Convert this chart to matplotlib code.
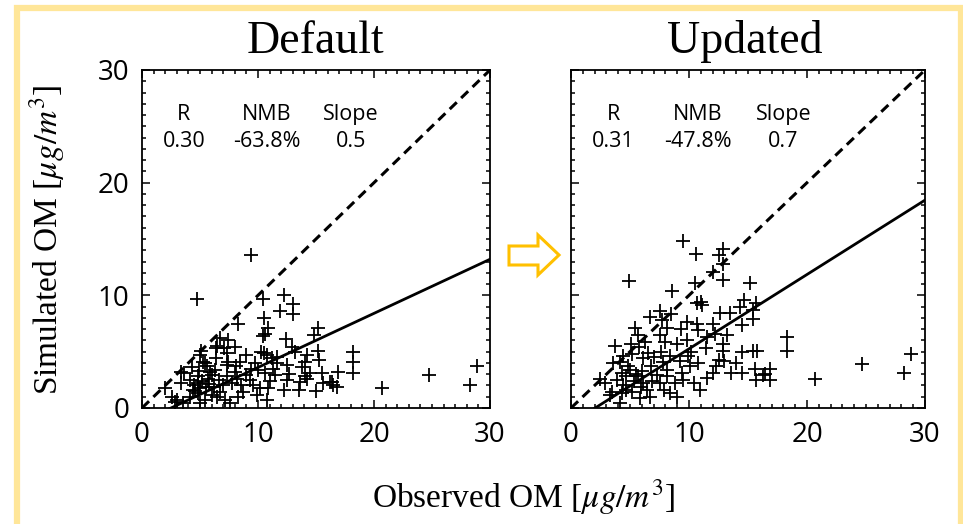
import matplotlib
matplotlib.use("Agg")
import matplotlib.pyplot as plt
import numpy as np
from matplotlib.patches import Rectangle, Polygon
from matplotlib.ticker import MultipleLocator

plt.rcParams['mathtext.fontset'] = 'stix'

# observed vs simulated OM (ug/m3)
default_obs = [9.4, 4.7, 10.4, 12.2, 13.0, 11.9, 13.0, 10.5, 8.3, 10.9, 10.6, 10.4, 15.2, 14.8,
               12.4, 6.7, 7.4, 6.5, 7.1, 8.0, 7.3, 6.4, 5.1, 5.0, 9.0, 8.45, 7.4, 6.4, 5.3, 10.3,
               10.75, 11.2, 11.6, 10.5, 13.2, 12.9, 14.2, 14.05, 15.2, 15.3, 18.2, 18.2, 18.2,
               9.7, 10.0, 11.3, 11.6, 12.5, 10.6, 5.4, 5.6, 7.3, 8.1, 3.4, 4.1, 4.85, 5.7, 6.6,
               7.3, 8.2, 9.0, 9.3, 3.6, 3.4, 2.0, 2.56, 3.0, 3.56, 4.1, 4.4, 4.85, 5.4, 6.0, 6.7,
               7.15, 7.6, 8.3, 8.7, 9.9, 10.75, 10.2, 10.9, 12.2, 13.5, 12.5, 14.2, 15.5, 16.35,
               16.8, 15.6, 16.2, 16.9, 16.5, 13.6, 14.05, 14.5, 20.7, 24.7, 28.9, 28.3, 2.85,
               4.5, 4.8, 5.0, 5.2, 4.6, 5.5, 5.8, 6.2, 6.0, 4.3, 5.9, 6.3, 7.8, 8.5, 7.0, 6.5,
               5.0, 4.9, 9.6, 11.0, 11.5, 12.7, 13.8, 8.0, 9.4, 15.0]
default_sim = [13.6, 9.7, 9.7, 10.0, 9.2, 8.6, 8.3, 8.0, 7.5, 7.1, 6.6, 6.4, 7.1, 6.5,
               6.1, 6.2, 6.0, 5.5, 5.3, 5.4, 4.85, 5.3, 5.1, 4.7, 4.7, 4.1, 4.1, 4.4, 4.1, 5.0,
               4.7, 4.4, 4.55, 4.9, 5.0, 5.4, 4.7, 4.1, 5.1, 4.3, 5.0, 4.1, 3.1,
               4.0, 3.4, 3.5, 4.0, 3.8, 3.1, 4.0, 3.7, 3.8, 3.7, 3.2, 2.5, 2.8, 2.6, 2.5,
               2.8, 2.6, 2.9, 2.5, 3.1, 2.2, 1.75, 1.0, 0.7, 0.4, 1.0, 1.6, 1.3, 0.7, 1.15, 1.45,
               0.7, 0.4, 1.0, 1.45, 1.15, 0.7, 1.75, 1.75, 1.6, 1.6, 2.5, 2.6, 3.1, 2.3,
               1.9, 2.2, 2.3, 3.2, 2.0, 2.3, 2.8, 3.1, 1.75, 2.9, 3.7, 2.0, 0.56,
               2.0, 2.2, 1.8, 2.4, 1.5, 1.9, 2.1, 1.9, 2.9, 3.6, 3.2, 3.4, 2.2, 2.0, 2.0, 1.0,
               0.4, 3.3, 2.0, 2.4, 2.9, 3.0, 3.6, 3.2, 3.5, 1.5]

updated_obs = [9.5, 10.6, 12.9, 12.5, 12.9, 12.06, 12.9, 4.9, 10.5, 15.2, 8.6, 10.7, 11.1, 11.0,
               14.7, 14.3, 15.7, 7.5, 6.7, 7.7, 8.5, 8.1, 5.4, 5.7, 7.5, 10.65, 10.8, 12.06,
               12.6, 13.5, 14.5, 3.7, 5.1, 5.8, 8.96, 9.8, 10.2, 11.4, 12.9, 12.9, 14.5, 15.4,
               3.6, 4.15, 4.86, 6.1, 7.0, 6.8, 7.8, 8.1, 4.3, 4.7, 5.0, 4.4, 4.7, 4.3, 2.46,
               2.9, 3.45, 3.3, 4.15, 5.7, 6.1, 6.4, 6.7, 5.85, 7.26, 7.5, 8.1, 8.8, 8.4, 9.5,
               9.4, 10.1, 10.4, 10.9, 12.06, 12.3, 12.5, 13.6, 14.0, 14.5, 15.6, 15.7, 15.45,
               15.4, 18.3, 18.3, 15.8, 16.4, 16.9, 16.9, 16.3, 20.7, 24.7, 28.2, 28.8,
               5.2, 5.5, 6.0, 6.5, 5.3, 6.9, 7.6, 8.4, 9.2, 9.9, 10.8, 11.5, 12.2, 13.2, 9.3,
               9.8, 8.0, 6.3, 4.4, 5.9, 7.9, 9.0, 3.9, 5.2, 11.5, 13.0]
updated_sim = [14.85, 13.7, 14.1, 13.6, 12.8, 12.1, 11.36, 11.3, 11.1, 11.1, 10.4, 9.3, 9.1, 9.4,
               9.6, 9.0, 9.3, 8.6, 8.1, 7.8, 8.3, 7.1, 7.07, 6.5, 6.5, 7.5, 6.9, 7.5,
               8.4, 8.4, 7.4, 5.5, 5.7, 5.4, 5.7, 6.0, 5.0, 5.3, 5.7, 5.1, 5.0, 5.1,
               4.0, 4.1, 3.7, 4.4, 4.55, 3.7, 4.1, 3.4, 3.1, 2.8, 3.4, 2.0, 1.6, 1.3, 2.6,
               2.2, 1.45, 1.15, 0.47, 2.8, 2.2, 1.6, 1.0, 0.86, 2.9, 2.2, 2.8, 2.2, 1.3, 2.5,
               3.1, 3.7, 2.2, 1.6, 3.1, 3.7, 4.3, 3.1, 4.0, 3.1, 3.5, 2.5, 8.7,
               7.9, 6.3, 5.1, 5.1, 3.0, 3.5, 2.5, 2.9, 2.6, 3.9, 3.1, 4.75,
               4.8, 3.0, 3.3, 4.9, 2.4, 2.4, 5.0, 4.6, 4.2, 4.6, 4.0, 6.3, 6.6, 6.5, 7.0,
               7.6, 5.9, 5.9, 4.6, 1.9, 1.6, 1.0, 2.5, 1.4, 2.7, 4.2]

# regression lines (slope, intercept)
default_fit = (0.48, -1.2)
updated_fit = (0.66, -1.35)

stat_names = ["R", "NMB", "Slope"]
default_stats = ["0.30", "-63.8%", "0.5"]
updated_stats = ["0.31", "-47.8%", "0.7"]

W, H = 963, 524
fig = plt.figure(figsize=(W / 100, H / 100), dpi=100)


def px(x, y):
    # pixel coords (from top-left) -> figure fraction
    return x / W, 1 - y / H


# yellow frame
fig.patches.append(Rectangle(px(16.5, 560), (961 - 16.5) / W, (560 - 7.5) / H,
                             transform=fig.transFigure, fill=False,
                             edgecolor='#FFE699', lw=4.5, zorder=0))

ax1 = fig.add_axes([142 / W, 1 - 408 / H, 348 / W, 338 / H])
ax2 = fig.add_axes([571 / W, 1 - 408 / H, 354 / W, 338 / H])

xs = np.array([0, 30])
for ax, obs, sim, fit, stats in [(ax1, default_obs, default_sim, default_fit, default_stats),
                                 (ax2, updated_obs, updated_sim, updated_fit, updated_stats)]:
    ax.plot(obs, sim, '+', color='black', ms=10, mew=1.3, zorder=3)
    ax.plot(xs, xs, color='black', lw=2.2, dashes=(3.2, 2.0), zorder=4)
    ax.plot(xs, fit[0] * xs + fit[1], color='black', lw=2.0, zorder=4)
    ax.set_xlim(0, 30)
    ax.set_ylim(0, 30)
    ax.xaxis.set_major_locator(MultipleLocator(10))
    ax.yaxis.set_major_locator(MultipleLocator(10))
    ax.xaxis.set_minor_locator(MultipleLocator(1))
    ax.yaxis.set_minor_locator(MultipleLocator(1))
    ax.tick_params(which='both', direction='in', top=True, right=True, width=1.1)
    ax.tick_params(which='major', length=6, labelsize=20, pad=9)
    ax.tick_params(which='minor', length=3)
    for lab in ax.get_xticklabels() + ax.get_yticklabels():
        lab.set_fontfamily('Open Sans')
    for sp in ax.spines.values():
        sp.set_linewidth(1.3)

    xpos = [0.12, 0.358, 0.60]
    for xp, name, val in zip(xpos, stat_names, stats):
        ax.text(xp, 0.867, name, transform=ax.transAxes, ha='center', va='center',
                fontsize=15.5, family='Open Sans')
        ax.text(xp, 0.787, val, transform=ax.transAxes, ha='center', va='center',
                fontsize=15.5, family='Open Sans')

ax2.tick_params(labelleft=False)

# titles
fig.text(*px(315, 53), "Default", ha='center', va='baseline', fontsize=33,
         family='Liberation Serif')
fig.text(*px(745, 53), "Updated", ha='center', va='baseline', fontsize=33,
         family='Liberation Serif')

# axis labels
fig.text(*px(47, 240), r"Simulated OM [$\mu g/m^3$]", rotation=90, ha='center', va='center',
         fontsize=24, family='Liberation Serif')
fig.text(*px(523, 497), r"Observed OM [$\mu g/m^3$]", ha='center', va='center',
         fontsize=24, family='Liberation Serif')

# arrow between the panels
arrow_px = [(509, 246), (538, 246), (538, 235), (559, 255), (538, 275), (538, 265), (509, 265)]
fig.patches.append(Polygon([px(x, y) for x, y in arrow_px], closed=True,
                           transform=fig.transFigure, facecolor='white',
                           edgecolor='#FFC000', lw=2.2))

fig.savefig("out.png", dpi=100)
